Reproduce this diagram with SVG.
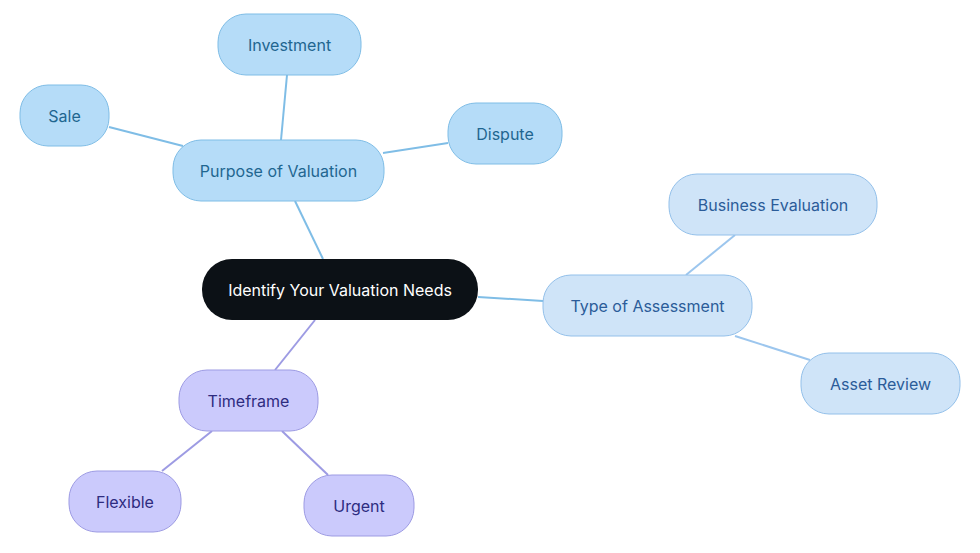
<svg xmlns="http://www.w3.org/2000/svg" width="980" height="553" viewBox="0 0 980 553">
<style>
text{font-family:Inter,"Noto Sans",sans-serif;font-size:16px;text-anchor:middle;dominant-baseline:central}
.p rect{fill:#b5dcf8;stroke:#7fbde6;stroke-width:1}
.p text{fill:#1f6690}
.t rect{fill:#cfe4f8;stroke:#93c0ea;stroke-width:1}
.t text{fill:#2b5c99}
.f rect{fill:#cbcafc;stroke:#9d9be3;stroke-width:1}
.f text{fill:#2e2c80}
.lb{stroke:#7fbde6;stroke-width:2;fill:none}
.lt{stroke:#9cc6ee;stroke-width:2;fill:none}
.lf{stroke:#9d9be3;stroke-width:2;fill:none}
</style>
<rect width="980" height="553" fill="#fff"/>
<g id="connectors">
<line class="lb" x1="323" y1="259" x2="295" y2="201"/>
<line class="lb" x1="281" y1="140" x2="287" y2="75"/>
<line class="lb" x1="183" y1="146" x2="109" y2="127"/>
<line class="lb" x1="383" y1="153" x2="448" y2="143"/>
<line class="lb" x1="478" y1="297" x2="543" y2="301"/>
<line class="lt" x1="686" y1="275" x2="735" y2="235"/>
<line class="lt" x1="735" y1="336" x2="810" y2="360"/>
<line class="lf" x1="315" y1="320" x2="275" y2="370"/>
<line class="lf" x1="212" y1="431" x2="162" y2="471"/>
<line class="lf" x1="282" y1="431" x2="328" y2="475"/>
</g>
<g id="central"><rect x="202" y="259" width="276" height="61" rx="30" fill="#0c1116"/><text x="340" y="289.5" fill="#fff">Identify Your Valuation Needs</text></g>
<g id="purpose" class="p"><rect x="173" y="140" width="211" height="61" rx="28"/><text x="278.5" y="170.5">Purpose of Valuation</text></g>
<g id="investment" class="p"><rect x="218" y="14" width="143" height="61" rx="28"/><text x="289.5" y="44.5">Investment</text></g>
<g id="sale" class="p"><rect x="20" y="85" width="89" height="61" rx="28"/><text x="64.5" y="115.5">Sale</text></g>
<g id="dispute" class="p"><rect x="448" y="103" width="114" height="61" rx="28"/><text x="505" y="133.5">Dispute</text></g>
<g id="type" class="t"><rect x="543" y="275" width="209" height="61" rx="28"/><text x="647.5" y="305.5">Type of Assessment</text></g>
<g id="business" class="t"><rect x="669" y="174" width="208" height="61" rx="28"/><text x="773" y="204.5">Business Evaluation</text></g>
<g id="asset" class="t"><rect x="801" y="353" width="159" height="61" rx="28"/><text x="880.5" y="383.5">Asset Review</text></g>
<g id="timeframe" class="f"><rect x="179" y="370" width="139" height="61" rx="28"/><text x="248.5" y="400.5">Timeframe</text></g>
<g id="flexible" class="f"><rect x="69" y="471" width="112" height="61" rx="28"/><text x="125" y="501.5">Flexible</text></g>
<g id="urgent" class="f"><rect x="304" y="475" width="110" height="61" rx="28"/><text x="359" y="505.5">Urgent</text></g>
</svg>
